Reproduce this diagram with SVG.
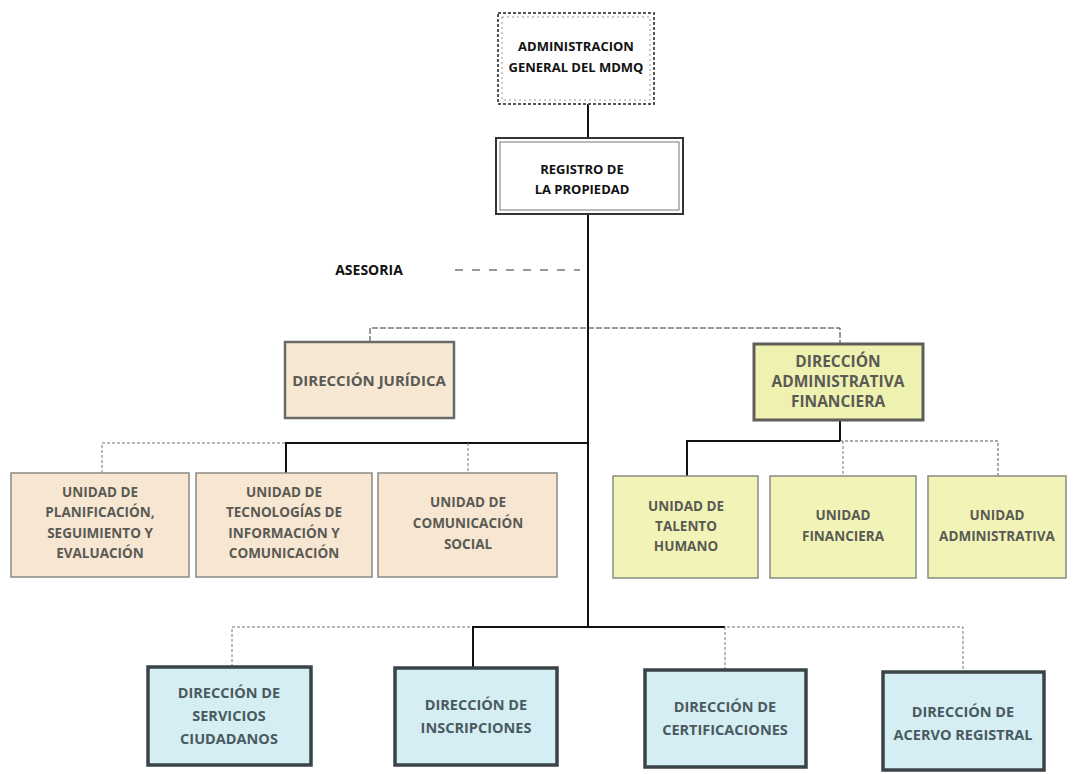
<svg xmlns="http://www.w3.org/2000/svg" width="1076" height="774" viewBox="0 0 1076 774">
<style>
text{font-family:"Open Sans","Liberation Sans",sans-serif;font-weight:bold;text-anchor:middle;}
.t{font-size:13px;fill:#111;}
.u{font-size:13.5px;fill:#5a5a55;}
.b{font-size:14.5px;fill:#4a5a5e;}
.solid{stroke:#111;stroke-width:2;fill:none;}
.thin{stroke:#777;stroke-width:1;fill:none;stroke-dasharray:3 2;}
.peach{fill:#f7e8d3;stroke:#6b6b66;stroke-width:2.5;}
.yel{fill:#f1f4b6;stroke:#8a8a80;stroke-width:1.5;}
.yel2{fill:#eef1b0;stroke:#5f5f58;stroke-width:3;}
.peach2{fill:#f7e7d2;stroke:#8a8a84;stroke-width:1.5;}
.cyan{fill:#d4eef4;stroke:#3a4446;stroke-width:3.5;}
</style>
<g id="connectors">
<line class="solid" x1="588" y1="104" x2="588" y2="137"/>
<line class="solid" x1="588" y1="214" x2="588" y2="628"/>
<line x1="455" y1="270" x2="580" y2="270" stroke="#333" stroke-width="1.2" stroke-dasharray="8 9"/>
<polyline class="thin" points="370,342 370,328 840,328 840,344" style="stroke:#333;stroke-dasharray:6 2"/>
<polyline class="thin" points="102,473 102,443 286,443"/>
<polyline class="solid" points="286,473 286,443 588,443"/>
<line class="thin" x1="468" y1="443" x2="468" y2="473"/>
<line class="solid" x1="840" y1="420" x2="840" y2="441"/>
<polyline class="solid" points="687,476 687,441 840,441"/>
<polyline class="thin" points="840,441 998,441 998,476" style="stroke:#555"/>
<line class="thin" x1="843" y1="441" x2="843" y2="476"/>
<polyline class="thin" points="232,667 232,627 473,627"/>
<polyline class="solid" points="473,668 473,627 725,627"/>
<polyline class="thin" points="725,670 725,627 963,627 963,672"/>
</g>
<g id="n-admin">
<rect x="498" y="13" width="156" height="91" fill="#fff" stroke="#555" stroke-width="2" stroke-dasharray="3 2"/>
<rect x="502" y="17" width="148" height="83" fill="none" stroke="#999" stroke-width="1" stroke-dasharray="2 3"/>
<text class="t" x="576" y="51">ADMINISTRACION</text>
<text class="t" x="576" y="72">GENERAL DEL MDMQ</text>
</g>
<g id="n-registro">
<rect x="496" y="138" width="187" height="76" fill="#fff" stroke="#333" stroke-width="2"/>
<rect x="500" y="142" width="179" height="68" fill="none" stroke="#777" stroke-width="1"/>
<text class="t" x="582" y="174">REGISTRO DE</text>
<text class="t" x="582" y="194">LA PROPIEDAD</text>
</g>
<g id="n-asesoria">
<text class="t" x="369" y="275" style="font-size:14px">ASESORIA</text>
</g>
<g id="n-juridica">
<rect class="peach" x="285" y="342" width="169" height="76"/>
<text class="u" x="369" y="386" style="font-size:15px">DIRECCIÓN JURÍDICA</text>
</g>
<g id="n-daf">
<rect class="yel2" x="754" y="344" width="169" height="76"/>
<text class="u" x="838" y="367" style="font-size:15.5px">DIRECCIÓN</text>
<text class="u" x="838" y="387" style="font-size:15.5px">ADMINISTRATIVA</text>
<text class="u" x="838" y="407" style="font-size:15.5px">FINANCIERA</text>
</g>
<g id="n-planif">
<rect class="peach2" x="11" y="473" width="178" height="104"/>
<text class="u" x="100" y="497">UNIDAD DE</text>
<text class="u" x="100" y="517">PLANIFICACIÓN,</text>
<text class="u" x="100" y="538">SEGUIMIENTO Y</text>
<text class="u" x="100" y="558">EVALUACIÓN</text>
</g>
<g id="n-tic">
<rect class="peach2" x="196" y="473" width="176" height="104"/>
<text class="u" x="284" y="497">UNIDAD DE</text>
<text class="u" x="284" y="517">TECNOLOGÍAS DE</text>
<text class="u" x="284" y="538">INFORMACIÓN Y</text>
<text class="u" x="284" y="558">COMUNICACIÓN</text>
</g>
<g id="n-comsocial">
<rect class="peach2" x="378" y="473" width="179" height="104"/>
<text class="u" x="468" y="507">UNIDAD DE</text>
<text class="u" x="468" y="528">COMUNICACIÓN</text>
<text class="u" x="468" y="549">SOCIAL</text>
</g>
<g id="n-talento">
<rect class="yel" x="613" y="476" width="145" height="102"/>
<text class="u" x="686" y="511">UNIDAD DE</text>
<text class="u" x="686" y="531">TALENTO</text>
<text class="u" x="686" y="551">HUMANO</text>
</g>
<g id="n-financiera">
<rect class="yel" x="770" y="476" width="146" height="102"/>
<text class="u" x="843" y="520">UNIDAD</text>
<text class="u" x="843" y="541">FINANCIERA</text>
</g>
<g id="n-administrativa">
<rect class="yel" x="928" y="476" width="138" height="102"/>
<text class="u" x="997" y="520">UNIDAD</text>
<text class="u" x="997" y="541">ADMINISTRATIVA</text>
</g>
<g id="n-servicios">
<rect class="cyan" x="148" y="667" width="163" height="98"/>
<text class="b" x="229" y="698">DIRECCIÓN DE</text>
<text class="b" x="229" y="721">SERVICIOS</text>
<text class="b" x="229" y="744">CIUDADANOS</text>
</g>
<g id="n-inscripciones">
<rect class="cyan" x="395" y="668" width="162" height="97"/>
<text class="b" x="476" y="710">DIRECCIÓN DE</text>
<text class="b" x="476" y="733">INSCRIPCIONES</text>
</g>
<g id="n-certificaciones">
<rect class="cyan" x="645" y="670" width="161" height="97"/>
<text class="b" x="725" y="712">DIRECCIÓN DE</text>
<text class="b" x="725" y="735">CERTIFICACIONES</text>
</g>
<g id="n-acervo">
<rect class="cyan" x="883" y="672" width="161" height="98"/>
<text class="b" x="963" y="717">DIRECCIÓN DE</text>
<text class="b" x="963" y="740">ACERVO REGISTRAL</text>
</g>
</svg>
